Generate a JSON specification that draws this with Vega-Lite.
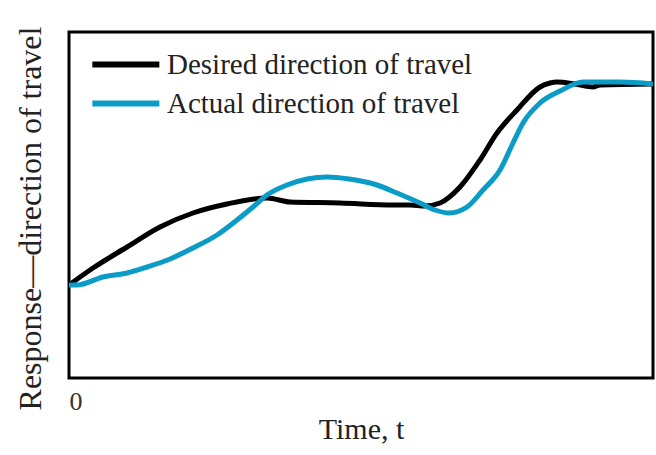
{
  "$schema": "https://vega.github.io/schema/vega-lite/v6.json",
  "width": 584,
  "height": 346,
  "autosize": {"type": "none"},
  "padding": {"left": 69, "top": 32, "right": 3, "bottom": 77},
  "background": "white",
  "config": {
    "view": {"stroke": "black", "strokeWidth": 3},
    "font": "Liberation Serif"
  },
  "data": {
    "values": [
      {"t": 0, "r": 93, "series": "Desired direction of travel"},
      {"t": 24, "r": 110, "series": "Desired direction of travel"},
      {"t": 58, "r": 131, "series": "Desired direction of travel"},
      {"t": 91, "r": 151, "series": "Desired direction of travel"},
      {"t": 124, "r": 165, "series": "Desired direction of travel"},
      {"t": 158, "r": 174, "series": "Desired direction of travel"},
      {"t": 198, "r": 180, "series": "Desired direction of travel"},
      {"t": 221, "r": 176, "series": "Desired direction of travel"},
      {"t": 271, "r": 175, "series": "Desired direction of travel"},
      {"t": 324, "r": 173, "series": "Desired direction of travel"},
      {"t": 341, "r": 173, "series": "Desired direction of travel"},
      {"t": 356, "r": 172, "series": "Desired direction of travel"},
      {"t": 371, "r": 175, "series": "Desired direction of travel"},
      {"t": 391, "r": 191, "series": "Desired direction of travel"},
      {"t": 411, "r": 218, "series": "Desired direction of travel"},
      {"t": 428, "r": 245, "series": "Desired direction of travel"},
      {"t": 448, "r": 268, "series": "Desired direction of travel"},
      {"t": 471, "r": 291, "series": "Desired direction of travel"},
      {"t": 481, "r": 295, "series": "Desired direction of travel"},
      {"t": 488, "r": 296, "series": "Desired direction of travel"},
      {"t": 506, "r": 294, "series": "Desired direction of travel"},
      {"t": 524, "r": 291, "series": "Desired direction of travel"},
      {"t": 531, "r": 293, "series": "Desired direction of travel"},
      {"t": 584, "r": 294, "series": "Desired direction of travel"},
      {"t": 0, "r": 93, "series": "Actual direction of travel"},
      {"t": 8, "r": 93, "series": "Actual direction of travel"},
      {"t": 34, "r": 101, "series": "Actual direction of travel"},
      {"t": 58, "r": 105, "series": "Actual direction of travel"},
      {"t": 78, "r": 111, "series": "Actual direction of travel"},
      {"t": 101, "r": 119, "series": "Actual direction of travel"},
      {"t": 124, "r": 130, "series": "Actual direction of travel"},
      {"t": 148, "r": 143, "series": "Actual direction of travel"},
      {"t": 168, "r": 158, "series": "Actual direction of travel"},
      {"t": 184, "r": 171, "series": "Actual direction of travel"},
      {"t": 198, "r": 183, "series": "Actual direction of travel"},
      {"t": 218, "r": 193, "series": "Actual direction of travel"},
      {"t": 238, "r": 199, "series": "Actual direction of travel"},
      {"t": 258, "r": 201, "series": "Actual direction of travel"},
      {"t": 280, "r": 199, "series": "Actual direction of travel"},
      {"t": 308, "r": 193, "series": "Actual direction of travel"},
      {"t": 328, "r": 185, "series": "Actual direction of travel"},
      {"t": 351, "r": 175, "series": "Actual direction of travel"},
      {"t": 366, "r": 168, "series": "Actual direction of travel"},
      {"t": 380, "r": 165, "series": "Actual direction of travel"},
      {"t": 398, "r": 171, "series": "Actual direction of travel"},
      {"t": 414, "r": 188, "series": "Actual direction of travel"},
      {"t": 431, "r": 208, "series": "Actual direction of travel"},
      {"t": 444, "r": 235, "series": "Actual direction of travel"},
      {"t": 454, "r": 255, "series": "Actual direction of travel"},
      {"t": 471, "r": 275, "series": "Actual direction of travel"},
      {"t": 491, "r": 287, "series": "Actual direction of travel"},
      {"t": 514, "r": 296, "series": "Actual direction of travel"},
      {"t": 551, "r": 296, "series": "Actual direction of travel"},
      {"t": 584, "r": 294, "series": "Actual direction of travel"}
    ]
  },
  "mark": {"type": "line", "strokeWidth": 5, "interpolate": "monotone", "clip": true},
  "encoding": {
    "x": {
      "field": "t",
      "type": "quantitative",
      "scale": {"domain": [0, 584], "nice": false, "zero": false},
      "axis": {
        "values": [0],
        "title": "Time, t",
        "grid": false,
        "ticks": false,
        "domain": false,
        "labelFontSize": 26,
        "labelColor": "#333333",
        "labelPadding": 10,
        "labelFont": "Liberation Serif",
        "titleFont": "Liberation Serif",
        "titleFontSize": 30,
        "titleFontWeight": "normal",
        "titleColor": "#222222",
        "titlePadding": 0
      }
    },
    "y": {
      "field": "r",
      "type": "quantitative",
      "scale": {"domain": [0, 346], "nice": false, "zero": false},
      "axis": {
        "labels": false,
        "ticks": false,
        "grid": false,
        "domain": false,
        "title": "Response—direction of travel",
        "titleFont": "Liberation Serif",
        "titleFontSize": 32,
        "titleFontWeight": "normal",
        "titleColor": "#222222",
        "titlePadding": 22,
        "titleY": 186
      }
    },
    "color": {
      "field": "series",
      "type": "nominal",
      "scale": {
        "domain": ["Desired direction of travel", "Actual direction of travel"],
        "range": ["#000000", "#0a9cc6"]
      },
      "legend": {
        "title": null,
        "orient": "none",
        "legendX": 20,
        "legendY": 18,
        "labelFont": "Liberation Serif",
        "labelFontSize": 29,
        "labelColor": "#222222",
        "labelLimit": 0,
        "symbolType": "M-1,0H5",
        "symbolSize": 499,
        "symbolStrokeWidth": 6,
        "labelOffset": 49,
        "rowPadding": 9
      }
    }
  }
}
